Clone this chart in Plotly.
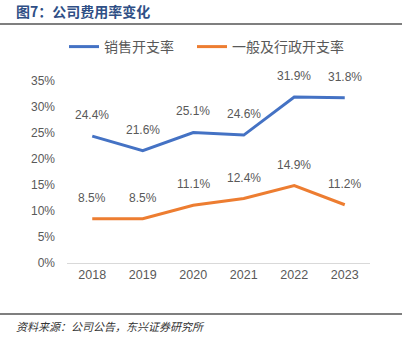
import plotly.graph_objects as go

years = ["2018", "2019", "2020", "2021", "2022", "2023"]
sales_rate = [24.4, 21.6, 25.1, 24.6, 31.9, 31.8]
admin_rate = [8.5, 8.5, 11.1, 12.4, 14.9, 11.2]
series_names = ["销售开支率", "一般及行政开支率"]
y_ticks = [0, 5, 10, 15, 20, 25, 30, 35]

W, H = 406, 346
L, R, T, B = 67, 36, 81, 83
PW, PH = W - L - R, H - T - B


def px_x(x):
    return (x - L) / PW


def px_y(y):
    return (H - B - y) / PH


LABEL_FONT = dict(family="Liberation Sans, Arial", size=12, color="#595959")
LEGEND_FONT = dict(family="Noto Sans CJK SC", size=14, color="#595959")

fig = go.Figure()
annotations = []
for name, vals, color, leg in [(series_names[0], sales_rate, "#4472C4", "legend"),
                               (series_names[1], admin_rate, "#ED7D31", "legend2")]:
    fig.add_trace(go.Scatter(
        x=years, y=vals, name=name, mode="lines", legend=leg,
        line=dict(color=color, width=3),
    ))
    # value labels above each point
    for i, v in enumerate(vals):
        annotations.append(dict(xref="x", yref="y", x=i, y=v, text=f"{v:.1f}%",
                                showarrow=False, yshift=21,
                                xanchor="center", yanchor="middle",
                                font=LABEL_FONT))

# header title, source note
annotations.append(dict(text="<b>图7：公司费用率变化</b>", xref="paper", yref="paper",
                        x=px_x(14), y=px_y(11), xanchor="left", yanchor="middle",
                        showarrow=False,
                        font=dict(family="Noto Sans CJK SC", size=14, color="#2F4F86")))
annotations.append(dict(text="<i>资料来源：公司公告，东兴证券研究所</i>", xref="paper", yref="paper",
                        x=px_x(14), y=px_y(326), xanchor="left", yanchor="middle",
                        showarrow=False,
                        font=dict(family="Noto Sans CJK SC", size=11, color="#333333")))

shapes = [dict(type="line", xref="paper", yref="paper",
               x0=px_x(0), x1=px_x(402), y0=px_y(yl), y1=px_y(yl),
               line=dict(color="#7F7F7F", width=2)) for yl in (24, 314)]

fig.update_layout(
    width=W, height=H,
    margin=dict(l=L, r=R, t=T, b=B),
    paper_bgcolor="white", plot_bgcolor="white",
    showlegend=True,
    legend=dict(orientation="h", x=px_x(64), xanchor="left",
                y=px_y(47), yanchor="middle", font=LEGEND_FONT),
    legend2=dict(orientation="h", x=px_x(192), xanchor="left",
                 y=px_y(47), yanchor="middle", font=LEGEND_FONT),
    xaxis=dict(type="category", range=[-0.5, 5.5], showgrid=False,
               showline=True, linecolor="#D9D9D9", linewidth=1,
               ticks="", tickfont=dict(family="Liberation Sans, Arial", size=12.5, color="#595959")),
    yaxis=dict(range=[0, 35], tickvals=y_ticks, ticktext=[f"{t}%" for t in y_ticks],
               showgrid=False, zeroline=False, showline=False, ticks="",
               ticklabelstandoff=11,
               tickfont=dict(family="Liberation Sans, Arial", size=12, color="#595959")),
    annotations=annotations,
    shapes=shapes,
)

fig.write_html("out.html")
